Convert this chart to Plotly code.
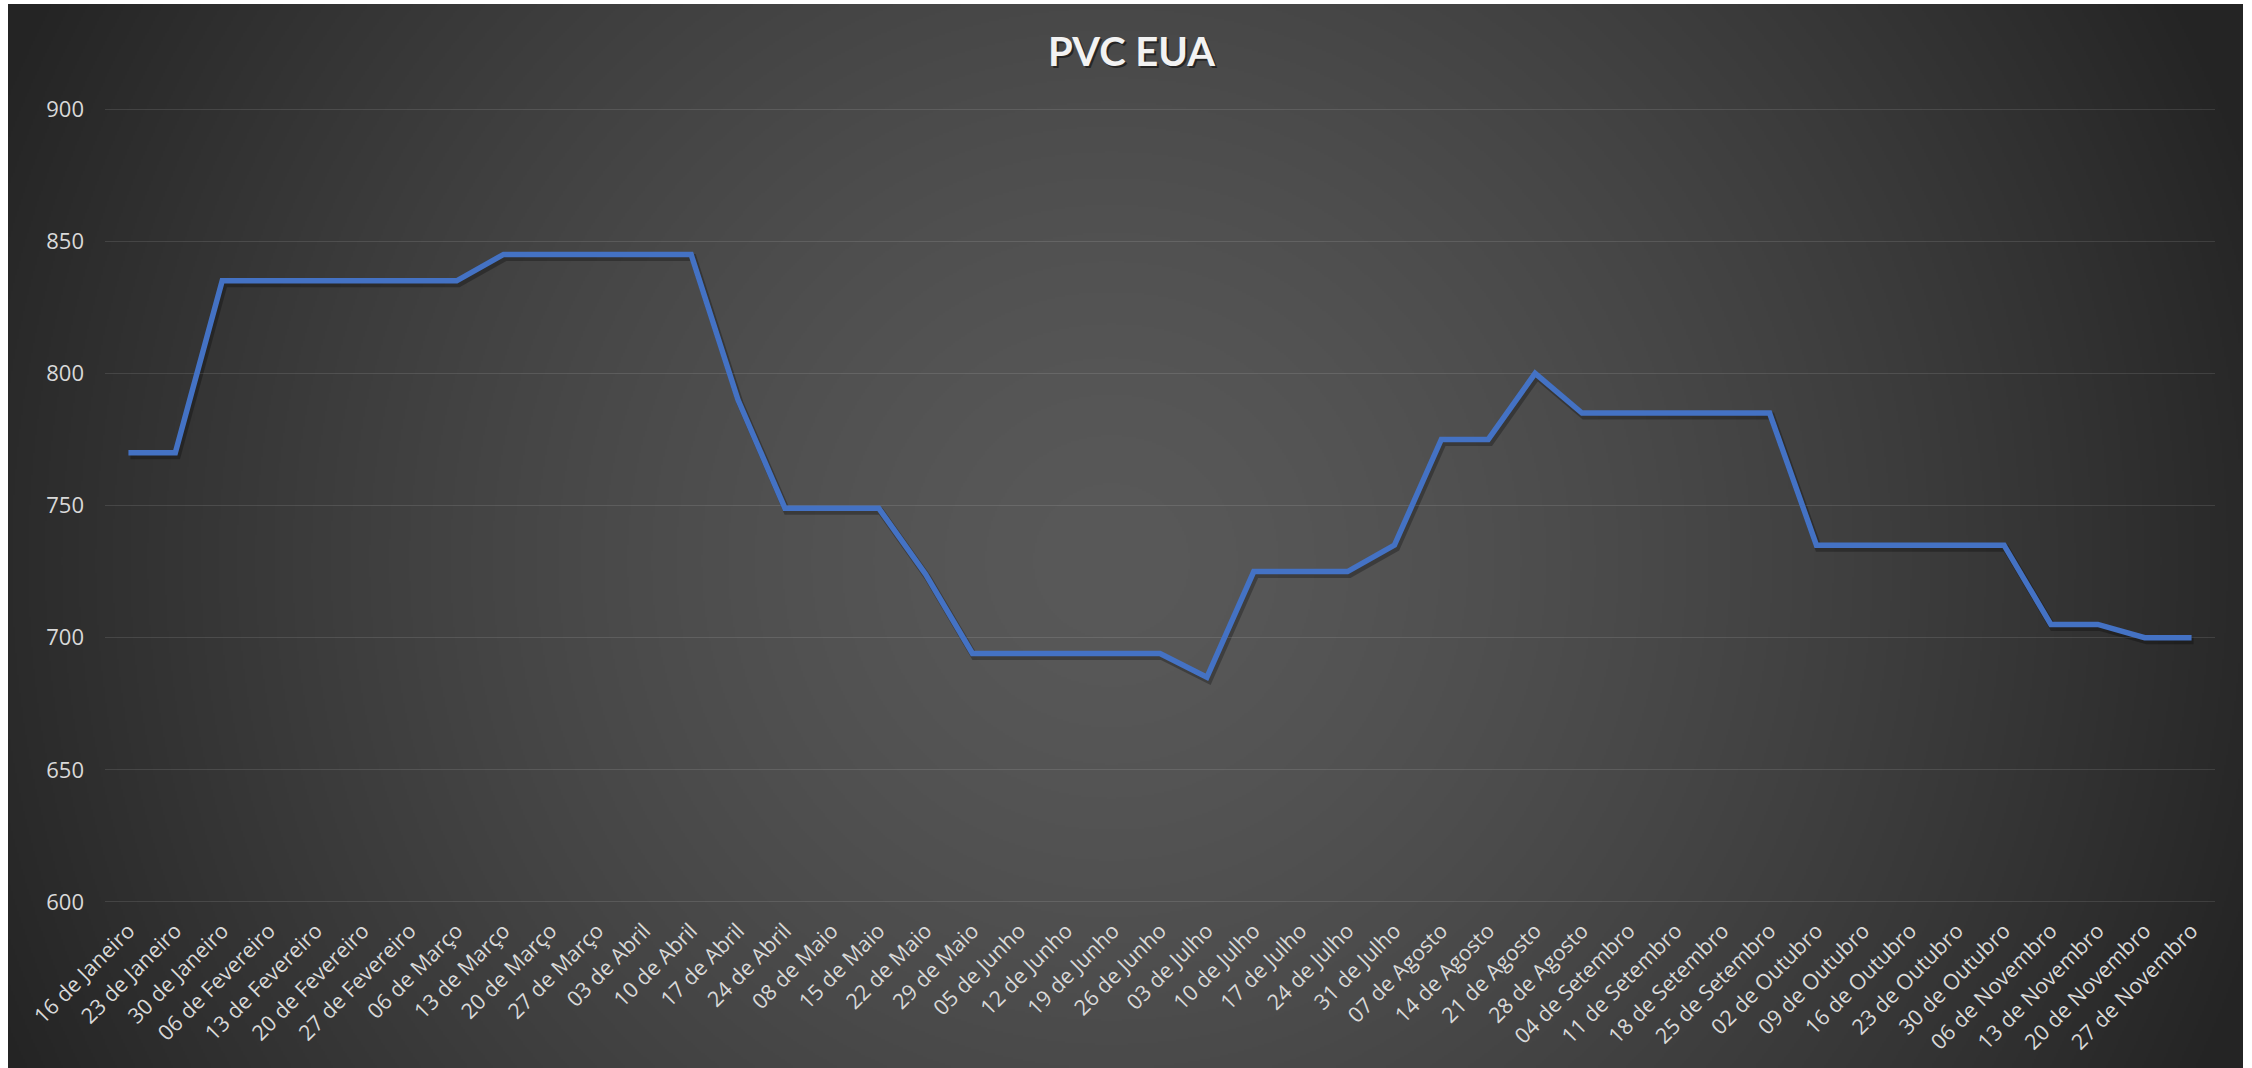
import base64
import struct
import zlib

import numpy as np
import plotly.graph_objects as go

# ---------------- data ----------------
categories = [
    "16 de Janeiro", "23 de Janeiro", "30 de Janeiro", "06 de Fevereiro",
    "13 de Fevereiro", "20 de Fevereiro", "27 de Fevereiro", "06 de Março",
    "13 de Março", "20 de Março", "27 de Março", "03 de Abril", "10 de Abril",
    "17 de Abril", "24 de Abril", "08 de Maio", "15 de Maio", "22 de Maio",
    "29 de Maio", "05 de Junho", "12 de Junho", "19 de Junho", "26 de Junho",
    "03 de Julho", "10 de Julho", "17 de Julho", "24 de Julho", "31 de Julho",
    "07 de Agosto", "14 de Agosto", "21 de Agosto", "28 de Agosto",
    "04 de Setembro", "11 de Setembro", "18 de Setembro", "25 de Setembro",
    "02 de Outubro", "09 de Outubro", "16 de Outubro", "23 de Outubro",
    "30 de Outubro", "06 de Novembro", "13 de Novembro", "20 de Novembro",
    "27 de Novembro",
]
pvc_eua = [
    770, 770, 835, 835, 835, 835, 835, 835, 845, 845, 845, 845, 845, 790,
    749, 749, 749, 724, 694, 694, 694, 694, 694, 685, 725, 725, 725, 735,
    775, 775, 800, 785, 785, 785, 785, 785, 735, 735, 735, 735, 735, 705,
    705, 700, 700,
]
y_ticks = [600, 650, 700, 750, 800, 850, 900]
title_text = "PVC EUA"

# ---------------- geometry ----------------
W, H = 2252, 1068
ML, MR, MT, MB = 105, 35, 108, 162
PW, PH = W - ML - MR, H - MT - MB
SX, SY = 2, 3  # shadow offset in px
ex, ey = SX / PW, SY / PH

# ---------------- radial background (style) ----------------
def make_png_gray(arr):
    h, w = arr.shape
    raw = b"".join(b"\x00" + arr[i].tobytes() for i in range(h))

    def chunk(tag, data):
        c = struct.pack(">I", len(data)) + tag + data
        return c + struct.pack(">I", zlib.crc32(tag + data) & 0xFFFFFFFF)

    ihdr = struct.pack(">IIBBBBB", w, h, 8, 0, 0, 0, 0)
    return (b"\x89PNG\r\n\x1a\n" + chunk(b"IHDR", ihdr)
            + chunk(b"IDAT", zlib.compress(raw, 9)) + chunk(b"IEND", b""))

BX0, BX1, BY0, BY1 = 8, 2243, 4, 1068
scale = 2
gw, gh = (BX1 - BX0) // scale, (BY1 - BY0) // scale
xx = (np.arange(gw) * scale + BX0)[None, :]
yy = (np.arange(gh) * scale + BY0)[:, None]
d = np.sqrt((xx - 1110.0) ** 2 + (yy - 560.0) ** 2)
g = 89 - 46 * (d / 1100.0) ** 1.45
g = np.clip(g, 36, 255).astype(np.uint8)
bg_uri = "data:image/png;base64," + base64.b64encode(make_png_gray(g)).decode()

FONT = "Open Sans"
TITLE_FONT = "Lato"
LINE_COLOR = "#4472C4"
TICK_COLOR = "#d9d9d9"

fig = go.Figure()
# soft shadow of the line (subplot xy, shifted a few pixels)
fig.add_trace(go.Scatter(
    x=categories, y=pvc_eua, mode="lines", xaxis="x", yaxis="y",
    line=dict(color="rgba(0,0,0,0.28)", width=7), hoverinfo="skip",
    showlegend=False,
))
# main line (subplot x2y2)
fig.add_trace(go.Scatter(
    x=categories, y=pvc_eua, mode="lines", xaxis="x2", yaxis="y2",
    line=dict(color=LINE_COLOR, width=5.5), name="PVC EUA", showlegend=False,
))

y_range = [599.6, 900.4]
common_x = dict(type="category", categoryorder="array", categoryarray=categories,
                range=[-0.5, len(categories) - 0.5], fixedrange=True, automargin=False)
common_y = dict(range=y_range, fixedrange=True, automargin=False)

fig.update_layout(
    width=W, height=H,
    margin=dict(l=ML, r=MR, t=MT, b=MB, pad=0, autoexpand=False),
    paper_bgcolor="white",
    plot_bgcolor="rgba(0,0,0,0)",
    font=dict(family=FONT, color=TICK_COLOR, size=22),
    showlegend=False,
    xaxis=dict(**common_x, domain=[ex, 1], anchor="y", visible=False),
    yaxis=dict(**common_y, domain=[0, 1 - ey], anchor="x", visible=False),
    xaxis2=dict(**common_x, domain=[0, 1 - ex], anchor="y2",
                showgrid=False, showline=False, zeroline=False, ticks="",
                tickmode="array", tickvals=categories, ticktext=categories,
                tickangle=-45, tickfont=dict(family=FONT, size=21.5, color=TICK_COLOR),
                ticklabelstandoff=10),
    yaxis2=dict(**common_y, domain=[ey, 1], anchor="x2",
                showgrid=True, gridcolor="rgba(255,255,255,0.11)", gridwidth=1.3,
                zeroline=False, showline=False, ticks="",
                tickmode="array", tickvals=y_ticks,
                tickfont=dict(family=FONT, size=22, color=TICK_COLOR),
                ticklabelstandoff=20),
    images=[dict(
        source=bg_uri, xref="paper", yref="paper",
        x=(BX0 - ML) / PW, y=(H - MB - BY0) / PH,
        sizex=(BX1 - BX0) / PW, sizey=(BY1 - BY0) / PH,
        xanchor="left", yanchor="top", sizing="stretch", layer="below",
    )],
    annotations=[
        dict(text=f"<b>{title_text}</b>", xref="paper", yref="paper",
             x=(1131 - ML) / PW, y=(H - MB - 51) / PH, showarrow=False,
             xanchor="center", yanchor="middle", xshift=2, yshift=-2,
             font=dict(family=TITLE_FONT, size=40, color="rgba(0,0,0,0.5)")),
        dict(text=f"<b>{title_text}</b>", xref="paper", yref="paper",
             x=(1131 - ML) / PW, y=(H - MB - 51) / PH, showarrow=False,
             xanchor="center", yanchor="middle",
             font=dict(family=TITLE_FONT, size=40, color="#f2f2f2")),
    ],
)

fig.write_html(
    "out.html",
    config={"displayModeBar": False},
    post_script="document.body.style.margin='0';document.body.style.overflow='hidden';",
)
